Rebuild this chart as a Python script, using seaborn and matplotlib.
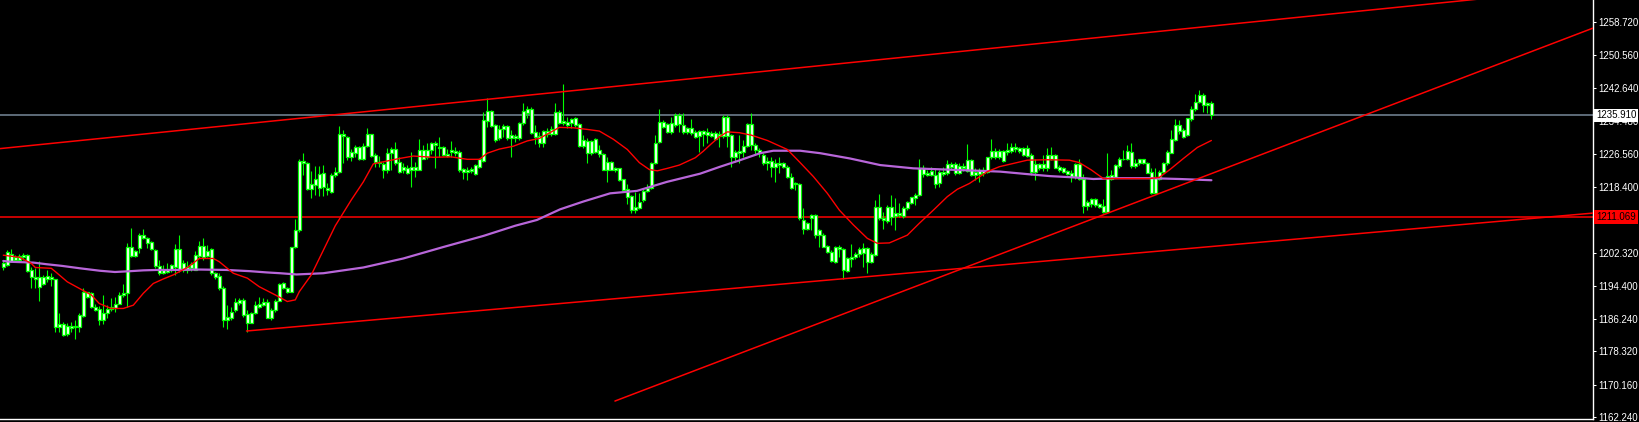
import numpy as np
import matplotlib
matplotlib.use('Agg')
import matplotlib.pyplot as plt
import seaborn as sns

# candle bodies / wicks (one candle per bar, oldest first)
body_top = [
    1199.8, 1202.7, 1202.1, 1201.3, 1201.6, 1201.8, 1201.8, 1198.2, 1196.6, 1196.6,
    1196.6, 1196.7, 1196.4, 1195.9, 1185.0, 1185.0, 1184.6, 1184.6, 1184.6, 1187.2,
    1192.9, 1192.7, 1192.5, 1189.1, 1188.6, 1187.6, 1188.6, 1189.1, 1190.0, 1192.0,
    1192.5, 1203.9, 1203.7, 1202.9, 1206.7, 1206.7, 1205.9, 1205.1, 1203.1, 1199.2,
    1198.2, 1198.3, 1199.4, 1203.3, 1203.3, 1199.8, 1198.8, 1199.6, 1201.8, 1204.0,
    1204.0, 1202.8, 1203.2, 1197.4, 1196.8, 1193.9, 1186.8, 1187.9, 1190.4, 1190.9,
    1190.9, 1187.4, 1187.6, 1189.6, 1189.9, 1190.4, 1190.4, 1188.4, 1190.7, 1194.8,
    1194.9, 1193.9, 1203.7, 1207.9, 1224.9, 1224.8, 1224.2, 1219.2, 1220.4, 1221.5,
    1221.9, 1218.1, 1221.4, 1222.2, 1231.5, 1231.5, 1230.7, 1226.9, 1228.1, 1228.1,
    1228.4, 1231.3, 1231.3, 1226.3, 1224.6, 1224.0, 1226.7, 1227.6, 1227.6, 1224.6,
    1223.4, 1223.0, 1223.4, 1223.4, 1227.5, 1227.5, 1227.5, 1229.1, 1229.3, 1228.3,
    1228.3, 1226.5, 1227.5, 1227.3, 1227.1, 1222.8, 1222.7, 1222.8, 1223.8, 1225.2,
    1234.8, 1237.1, 1237.1, 1233.6, 1232.5, 1233.3, 1233.3, 1231.1, 1231.0, 1234.1,
    1237.0, 1237.6, 1237.6, 1231.9, 1230.9, 1232.1, 1232.2, 1232.5, 1236.8, 1236.8,
    1234.6, 1234.4, 1235.0, 1235.2, 1233.8, 1229.9, 1229.7, 1229.7, 1230.1, 1227.5,
    1226.5, 1224.6, 1224.6, 1223.1, 1223.0, 1220.3, 1217.9, 1216.2, 1213.5, 1214.8,
    1217.5, 1218.1, 1224.2, 1229.3, 1234.4, 1234.4, 1233.8, 1234.1, 1236.0, 1236.0,
    1233.6, 1232.8, 1232.8, 1231.9, 1232.1, 1232.0, 1231.8, 1231.6, 1231.7, 1231.5,
    1235.6, 1235.6, 1231.1, 1227.1, 1227.3, 1228.4, 1233.8, 1233.8, 1228.7, 1227.5,
    1226.3, 1224.8, 1224.8, 1224.4, 1224.4, 1224.4, 1223.4, 1221.0, 1219.5, 1219.3,
    1210.5, 1209.7, 1211.6, 1211.6, 1207.9, 1206.7, 1204.0, 1202.6, 1203.9, 1203.9,
    1203.2, 1201.0, 1201.4, 1202.0, 1203.2, 1203.5, 1203.5, 1202.1, 1213.5, 1213.6,
    1211.0, 1213.6, 1213.6, 1212.0, 1212.2, 1213.2, 1214.9, 1215.9, 1216.6, 1223.0,
    1223.0, 1221.9, 1222.4, 1221.4, 1222.2, 1222.2, 1224.1, 1224.1, 1224.1, 1223.6,
    1223.6, 1225.0, 1225.0, 1222.2, 1222.6, 1222.6, 1225.7, 1227.3, 1227.3, 1227.3,
    1227.3, 1227.5, 1228.1, 1228.1, 1227.9, 1227.9, 1227.9, 1226.3, 1224.1, 1224.1,
    1224.1, 1226.3, 1226.2, 1226.2, 1223.4, 1223.0, 1222.3, 1221.8, 1224.0, 1224.0,
    1220.5, 1214.8, 1215.4, 1215.4, 1214.3, 1213.8, 1221.1, 1221.4, 1223.8, 1225.4,
    1225.4, 1227.2, 1227.1, 1224.2, 1225.2, 1225.2, 1224.4, 1222.2, 1221.0, 1222.2,
    1224.2, 1227.1, 1230.1, 1233.6, 1233.6, 1232.3, 1235.2, 1237.4, 1239.3, 1240.9,
    1240.9, 1238.9, 1238.9,
]
body_bot = [
    1198.8, 1199.4, 1200.4, 1200.6, 1200.6, 1201.3, 1198.0, 1196.4, 1196.1, 1194.1,
    1194.8, 1196.1, 1195.9, 1184.3, 1184.2, 1182.3, 1182.5, 1184.1, 1184.3, 1184.3,
    1187.0, 1191.7, 1189.1, 1188.5, 1186.1, 1186.1, 1187.8, 1188.6, 1188.8, 1190.0,
    1192.0, 1192.5, 1201.6, 1201.6, 1203.6, 1206.1, 1204.9, 1203.3, 1199.2, 1197.4,
    1197.4, 1197.7, 1198.2, 1198.8, 1198.3, 1198.2, 1198.2, 1198.6, 1198.3, 1201.6,
    1201.3, 1201.6, 1197.4, 1196.6, 1193.9, 1186.1, 1186.1, 1186.5, 1188.4, 1190.2,
    1187.2, 1185.3, 1185.3, 1187.6, 1189.2, 1189.7, 1186.5, 1186.5, 1188.4, 1190.7,
    1193.7, 1192.8, 1192.9, 1203.7, 1207.9, 1224.2, 1217.9, 1217.9, 1218.9, 1218.1,
    1218.4, 1217.7, 1217.3, 1221.4, 1222.0, 1230.9, 1225.8, 1225.7, 1226.7, 1225.4,
    1225.4, 1228.4, 1226.1, 1224.6, 1224.4, 1222.7, 1222.7, 1226.7, 1224.4, 1222.2,
    1222.6, 1221.9, 1222.7, 1222.7, 1222.7, 1225.4, 1225.7, 1227.5, 1228.7, 1227.9,
    1226.2, 1226.0, 1227.1, 1226.8, 1222.6, 1222.2, 1222.1, 1222.4, 1221.6, 1223.4,
    1224.9, 1234.6, 1233.3, 1229.9, 1230.3, 1232.5, 1230.5, 1230.3, 1230.4, 1230.3,
    1234.1, 1236.4, 1231.7, 1230.7, 1229.3, 1229.3, 1231.4, 1231.5, 1231.5, 1234.1,
    1234.0, 1233.6, 1234.0, 1233.6, 1228.4, 1228.4, 1226.7, 1226.7, 1227.1, 1226.5,
    1222.7, 1222.7, 1222.7, 1222.7, 1220.1, 1217.7, 1216.1, 1212.8, 1212.8, 1213.2,
    1215.3, 1217.5, 1218.1, 1224.2, 1229.5, 1233.2, 1231.9, 1231.9, 1233.6, 1233.8,
    1231.9, 1231.9, 1231.7, 1230.7, 1230.9, 1231.5, 1231.1, 1231.0, 1230.1, 1230.9,
    1230.9, 1230.9, 1225.7, 1225.7, 1226.8, 1227.1, 1228.4, 1228.7, 1227.5, 1226.7,
    1224.2, 1224.2, 1223.4, 1223.4, 1223.8, 1223.4, 1220.8, 1218.1, 1219.2, 1210.8,
    1208.3, 1208.3, 1211.0, 1206.7, 1206.7, 1203.9, 1202.6, 1200.5, 1200.2, 1203.2,
    1198.2, 1198.0, 1200.8, 1201.3, 1202.1, 1202.3, 1200.2, 1200.2, 1201.9, 1210.8,
    1210.4, 1210.2, 1211.2, 1211.4, 1211.6, 1211.4, 1213.2, 1214.6, 1215.7, 1216.5,
    1221.6, 1221.4, 1221.4, 1219.3, 1219.5, 1221.6, 1221.9, 1223.4, 1221.9, 1221.9,
    1223.0, 1222.4, 1221.4, 1221.4, 1221.6, 1221.8, 1222.2, 1225.7, 1225.8, 1225.7,
    1224.9, 1227.1, 1227.3, 1227.6, 1227.3, 1226.3, 1226.0, 1222.2, 1222.2, 1223.0,
    1223.0, 1223.0, 1225.2, 1223.2, 1222.7, 1222.2, 1221.6, 1220.8, 1220.8, 1220.3,
    1213.8, 1213.8, 1214.3, 1214.0, 1213.5, 1212.4, 1212.4, 1220.5, 1221.0, 1223.6,
    1225.2, 1225.4, 1223.6, 1223.6, 1224.2, 1224.4, 1221.9, 1217.0, 1217.0, 1220.5,
    1222.2, 1224.2, 1226.8, 1229.9, 1232.2, 1230.7, 1231.1, 1235.0, 1237.4, 1239.3,
    1238.5, 1238.5, 1235.9,
]
high = [
    1200.6, 1203.1, 1203.2, 1201.8, 1202.1, 1202.3, 1202.1, 1198.8, 1198.6, 1200.4,
    1197.0, 1198.3, 1197.4, 1196.1, 1187.8, 1185.6, 1185.2, 1185.6, 1186.1, 1187.6,
    1193.7, 1192.9, 1192.7, 1189.9, 1189.4, 1192.1, 1189.6, 1191.3, 1191.7, 1192.7,
    1194.8, 1204.9, 1208.4, 1203.1, 1207.1, 1208.1, 1206.3, 1205.3, 1203.2, 1200.6,
    1199.4, 1199.8, 1199.6, 1204.5, 1206.7, 1200.6, 1200.5, 1200.2, 1202.9, 1205.3,
    1205.9, 1204.3, 1203.5, 1197.8, 1197.4, 1194.3, 1189.6, 1189.2, 1191.3, 1191.3,
    1191.3, 1188.4, 1188.0, 1190.5, 1191.5, 1191.3, 1191.0, 1188.8, 1191.0, 1194.9,
    1195.3, 1194.1, 1203.9, 1210.6, 1225.2, 1226.7, 1224.6, 1222.3, 1223.6, 1223.6,
    1223.8, 1219.5, 1221.8, 1223.4, 1233.3, 1232.4, 1230.9, 1227.6, 1228.7, 1228.4,
    1229.1, 1232.8, 1231.5, 1226.8, 1226.0, 1224.6, 1227.9, 1228.3, 1229.5, 1225.8,
    1224.2, 1223.8, 1227.1, 1224.6, 1230.1, 1228.7, 1229.3, 1229.5, 1229.7, 1230.7,
    1228.4, 1227.6, 1229.7, 1228.1, 1227.5, 1223.0, 1223.4, 1223.4, 1224.0, 1225.4,
    1236.8, 1240.1, 1237.2, 1233.8, 1233.6, 1233.8, 1233.6, 1232.3, 1231.5, 1234.4,
    1239.0, 1238.2, 1238.0, 1233.6, 1231.9, 1232.3, 1232.8, 1233.3, 1238.9, 1237.2,
    1243.7, 1235.6, 1235.2, 1235.6, 1234.0, 1231.1, 1230.3, 1229.9, 1230.3, 1228.7,
    1226.7, 1225.8, 1224.8, 1223.4, 1223.2, 1220.5, 1219.3, 1216.5, 1217.3, 1217.0,
    1218.1, 1219.3, 1224.6, 1231.1, 1237.4, 1234.8, 1234.1, 1235.6, 1236.6, 1236.4,
    1236.4, 1233.2, 1235.0, 1232.3, 1232.3, 1232.3, 1232.8, 1232.0, 1232.0, 1232.0,
    1236.0, 1236.0, 1231.5, 1227.5, 1231.1, 1229.9, 1234.0, 1236.4, 1229.1, 1227.9,
    1226.7, 1225.8, 1225.8, 1225.4, 1225.8, 1224.6, 1223.8, 1221.8, 1219.7, 1219.5,
    1213.2, 1210.0, 1211.8, 1211.8, 1208.3, 1207.1, 1204.3, 1203.0, 1204.0, 1204.3,
    1203.5, 1201.4, 1204.5, 1202.6, 1203.9, 1204.7, 1203.9, 1202.6, 1215.3, 1216.7,
    1212.4, 1214.0, 1216.5, 1215.7, 1214.5, 1213.8, 1215.1, 1216.1, 1217.0, 1225.4,
    1223.8, 1222.6, 1223.4, 1223.0, 1222.6, 1223.4, 1225.0, 1224.6, 1224.6, 1224.2,
    1224.4, 1228.9, 1225.2, 1223.0, 1223.0, 1223.4, 1225.8, 1230.1, 1227.9, 1227.6,
    1227.5, 1229.1, 1229.3, 1229.1, 1228.3, 1228.3, 1228.7, 1226.7, 1225.4, 1224.2,
    1226.3, 1227.9, 1228.1, 1226.5, 1223.8, 1223.4, 1222.7, 1222.7, 1224.2, 1225.2,
    1221.6, 1215.3, 1215.7, 1215.7, 1214.6, 1215.4, 1226.7, 1222.7, 1224.0, 1225.7,
    1227.5, 1228.7, 1229.1, 1225.4, 1225.4, 1225.4, 1224.6, 1223.0, 1223.0, 1222.6,
    1224.6, 1227.5, 1232.3, 1235.0, 1234.8, 1232.8, 1235.4, 1238.2, 1241.1, 1242.1,
    1241.5, 1239.3, 1239.5,
]
low = [
    1198.2, 1199.2, 1200.2, 1200.2, 1200.2, 1200.6, 1197.8, 1193.9, 1193.7, 1190.5,
    1194.5, 1195.3, 1194.3, 1183.1, 1183.1, 1182.1, 1182.2, 1183.1, 1181.3, 1183.1,
    1186.8, 1191.3, 1188.8, 1188.2, 1184.8, 1185.0, 1186.4, 1188.3, 1188.0, 1189.9,
    1191.7, 1189.1, 1201.4, 1201.3, 1202.4, 1205.7, 1203.5, 1203.1, 1198.6, 1197.0,
    1197.2, 1197.4, 1197.8, 1197.0, 1197.8, 1197.8, 1197.4, 1198.0, 1198.2, 1201.0,
    1200.6, 1201.3, 1197.0, 1196.1, 1193.3, 1184.3, 1183.9, 1186.0, 1188.0, 1189.6,
    1186.6, 1183.1, 1185.2, 1187.4, 1188.8, 1189.4, 1186.4, 1186.1, 1188.0, 1190.5,
    1193.5, 1192.5, 1192.7, 1203.5, 1207.5, 1221.4, 1217.7, 1215.8, 1216.5, 1216.2,
    1216.2, 1216.5, 1216.9, 1221.0, 1221.8, 1224.2, 1225.0, 1224.9, 1225.8, 1225.0,
    1225.0, 1228.1, 1225.8, 1223.4, 1223.4, 1220.6, 1221.8, 1222.6, 1223.8, 1221.8,
    1221.8, 1221.6, 1218.5, 1221.0, 1222.6, 1225.2, 1225.4, 1226.5, 1223.0, 1225.8,
    1226.0, 1225.7, 1225.8, 1226.0, 1222.2, 1220.5, 1220.1, 1221.8, 1221.4, 1223.2,
    1224.6, 1233.2, 1233.0, 1229.5, 1229.9, 1230.7, 1229.9, 1225.7, 1229.5, 1229.9,
    1233.6, 1235.2, 1231.5, 1228.9, 1228.3, 1228.1, 1230.7, 1231.0, 1231.1, 1233.8,
    1233.6, 1232.8, 1232.8, 1233.2, 1228.1, 1227.9, 1224.4, 1226.2, 1226.7, 1225.8,
    1222.6, 1219.7, 1222.6, 1222.2, 1220.0, 1217.5, 1214.4, 1212.0, 1212.0, 1213.0,
    1214.8, 1217.3, 1217.9, 1224.0, 1229.3, 1232.8, 1231.7, 1231.5, 1233.2, 1231.9,
    1231.5, 1231.4, 1231.1, 1230.3, 1227.1, 1228.4, 1229.1, 1230.7, 1229.9, 1228.3,
    1230.3, 1228.3, 1223.4, 1224.6, 1224.2, 1225.8, 1228.3, 1227.5, 1226.3, 1225.8,
    1223.8, 1222.6, 1221.0, 1219.7, 1221.8, 1223.0, 1220.6, 1217.9, 1217.7, 1210.5,
    1207.0, 1207.9, 1207.9, 1205.9, 1203.9, 1203.7, 1202.3, 1200.2, 1200.0, 1201.4,
    1196.1, 1197.8, 1199.0, 1200.8, 1201.4, 1199.0, 1197.5, 1199.8, 1201.6, 1210.5,
    1208.3, 1209.6, 1209.2, 1207.9, 1211.2, 1211.0, 1212.8, 1214.3, 1214.0, 1216.2,
    1221.0, 1221.1, 1221.1, 1218.1, 1218.5, 1221.1, 1221.4, 1222.8, 1221.4, 1221.6,
    1222.4, 1222.2, 1221.1, 1220.2, 1219.7, 1221.1, 1221.9, 1225.2, 1225.4, 1225.2,
    1224.6, 1226.3, 1226.8, 1227.1, 1226.7, 1226.0, 1225.8, 1221.4, 1220.2, 1222.6,
    1222.4, 1222.4, 1225.0, 1223.0, 1222.2, 1221.8, 1221.4, 1219.7, 1220.5, 1220.1,
    1212.0, 1212.8, 1213.6, 1213.6, 1213.2, 1212.0, 1212.2, 1220.1, 1220.8, 1223.2,
    1225.0, 1225.0, 1223.0, 1223.2, 1223.8, 1224.0, 1221.8, 1216.7, 1216.7, 1220.1,
    1221.8, 1223.8, 1226.7, 1229.7, 1231.4, 1230.3, 1230.9, 1234.6, 1237.1, 1239.0,
    1236.8, 1236.6, 1235.0,
]

# fast moving average (red) sampled along the chart: bar index, price
ma_fast_x = [0, 4, 7, 8, 12, 13, 16, 19, 22, 24,
             27, 30, 32.5, 35, 37.5, 40, 42.5, 46, 49, 52.5,
             54, 57.5, 61, 64, 68, 71, 73, 74, 77, 80,
             83, 87, 90, 92.5, 95, 97, 99, 102.5, 107.5, 112,
             116, 119, 121, 124, 127.5, 131, 134, 137, 139, 142.5,
             146, 149, 152.5, 156, 159, 161.5, 163.5, 166, 169, 173,
             175, 177, 179, 181, 184, 187, 191, 196, 199, 202.5,
             206, 209, 212.5, 216, 218.5, 221.5, 226, 229, 232.5, 236,
             238.5, 241.5, 246, 249, 252.5, 256, 261, 266.5, 269, 272,
             275, 281.5, 286.5, 289, 291.5, 295, 298.5, 302]
ma_fast = [1201.8, 1201.3, 1199.8, 1198.8, 1198.6, 1197.8, 1195.3, 1193.7, 1192.1, 1190.0,
           1188.8, 1188.8, 1189.6, 1192.5, 1194.9, 1196.0, 1197.0, 1198.8, 1201.0, 1201.0,
           1200.2, 1197.4, 1196.2, 1194.1, 1192.1, 1190.5, 1190.9, 1192.9, 1197.0, 1203.0,
           1209.0, 1215.3, 1219.7, 1224.1, 1224.6, 1225.0, 1225.4, 1226.0, 1225.7, 1225.8,
           1225.2, 1225.2, 1226.7, 1227.7, 1228.4, 1229.7, 1230.3, 1231.9, 1233.0, 1232.9,
           1232.5, 1232.1, 1230.1, 1227.6, 1224.4, 1222.7, 1222.4, 1223.0, 1223.8, 1225.6,
           1227.2, 1229.0, 1230.7, 1231.9, 1231.7, 1231.1, 1229.8, 1227.6, 1224.6, 1221.0,
           1216.9, 1212.8, 1209.2, 1205.9, 1204.7, 1204.8, 1206.7, 1209.6, 1212.8, 1216.1,
           1217.9, 1219.3, 1222.2, 1223.4, 1224.2, 1225.0, 1225.1, 1225.0, 1224.4, 1222.6,
           1220.5, 1220.5, 1220.5, 1220.8, 1222.6, 1225.4, 1228.1, 1229.8]

# slow moving average (violet)
ma_slow_x = [0, 1.7, 7.5, 10.8, 14.6, 19.2, 24.2, 27.9, 31.7, 35,
             38.3, 42.5, 49.2, 55.8, 61.7, 65.8, 69.2, 73.3, 80, 90,
             100, 110, 120, 128, 133.4, 139.2, 145, 151.7, 158.4, 165.9,
             174.2, 179.2, 184.2, 189.2, 192.5, 199.2, 204.2, 211.7, 219.2, 227.5,
             235.9, 244.2, 249.2, 255.9, 261.7, 267.5, 272.5, 278.4, 286.7, 294, 302]
ma_slow = [1200.4, 1200.2, 1200.0, 1199.6, 1199.2, 1198.6, 1198.0, 1197.7, 1197.9, 1198.1,
           1198.2, 1198.2, 1198.3, 1198.2, 1197.9, 1197.6, 1197.4, 1197.1, 1197.4, 1198.8,
           1201.0, 1203.8, 1206.5, 1209.0, 1210.4, 1213.0, 1214.9, 1216.9, 1217.5, 1219.7,
           1221.7, 1223.4, 1225.0, 1226.7, 1227.3, 1227.3, 1226.7, 1225.4, 1223.8, 1223.0,
           1222.7, 1222.4, 1222.2, 1221.6, 1221.1, 1220.8, 1220.4, 1220.6, 1220.6, 1220.4, 1220.1]

# hand drawn trend lines (bar index, price at both ends)
channel_top_x, channel_top_y = [-1, 400], [1227.8, 1267.4]
channel_bot_x, channel_bot_y = [60.8, 400], [1183.3, 1212.3]
support_x, support_y = [152.9, 400], [1166.2, 1258.2]

bid_price = 1235.91
level_price = 1211.069
yticks = [1258.72, 1250.56, 1242.64, 1234.48, 1226.56, 1218.40,
          1210.48, 1202.32, 1194.40, 1186.24, 1178.32, 1170.16, 1162.24]

GREEN = '#00ff00'
RED = '#ff0000'

sns.set_theme(style='dark', rc={'axes.facecolor': 'black', 'figure.facecolor': 'black',
                                'axes.edgecolor': 'white', 'ytick.color': 'white'})
plt.rcParams['font.family'] = ['Liberation Sans', 'DejaVu Sans']

W, H = 1639, 422
fig = plt.figure(figsize=(W / 100, H / 100), dpi=100)
ax = fig.add_axes([0, 3 / H, 1593 / W, 419 / H])
ax.set_facecolor('black')

idx = np.arange(len(body_top))
top = np.array(body_top)
bot = np.array(body_bot)

# wicks then bodies
ax.vlines(idx, low, high, color=GREEN, lw=0.8, zorder=3)
ax.bar(idx, top - bot, bottom=bot, width=0.72, color='white',
       edgecolor=GREEN, linewidth=0.9, zorder=4)

# moving averages
sns.lineplot(x=ma_slow_x, y=ma_slow, ax=ax, color='#b866d9', lw=1.6, zorder=5)
sns.lineplot(x=ma_fast_x, y=ma_fast, ax=ax, color=RED, lw=1.0, zorder=5)

# trend lines + levels
for xs, ys in [(channel_top_x, channel_top_y), (channel_bot_x, channel_bot_y),
               (support_x, support_y)]:
    sns.lineplot(x=xs, y=ys, ax=ax, color=RED, lw=1.1, zorder=6)
ax.axhline(bid_price, color='#778899', lw=1.1, zorder=2)
ax.axhline(level_price, color=RED, lw=1.1, zorder=2)

ax.set_xlim(-0.825, 397.4)
ax.set_ylim(1161.82, 1264.09)
ax.set_xticks([])
ax.set_xlabel('')
ax.set_ylabel('')
ax.yaxis.tick_right()
ax.set_yticks(yticks)
ax.set_yticklabels(['%.3f' % v for v in yticks])
ax.tick_params(axis='y', colors='white', labelsize=7, length=2.5, width=0.75,
               pad=1.5, direction='out')
for s in ['top', 'left']:
    ax.spines[s].set_visible(False)
for s in ['right', 'bottom']:
    ax.spines[s].set_color('white')
    ax.spines[s].set_linewidth(1.0)

# price tags on the right scale
ax.text(1.002, bid_price, '%.3f' % bid_price, transform=ax.get_yaxis_transform(),
        ha='left', va='center', fontsize=7, color='black', clip_on=False, zorder=10,
        bbox=dict(boxstyle='square,pad=0.18', fc='white', ec='none'))
ax.text(1.002, level_price, '%.3f' % level_price, transform=ax.get_yaxis_transform(),
        ha='left', va='center', fontsize=7, color='black', clip_on=False, zorder=10,
        bbox=dict(boxstyle='square,pad=0.18', fc=RED, ec='none'))

fig.savefig('out.png', dpi=100, facecolor='black')
